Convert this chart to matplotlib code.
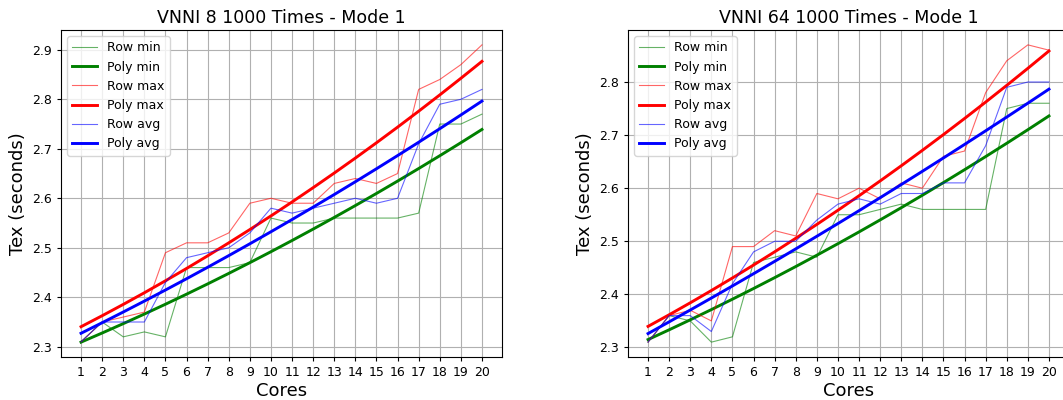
import matplotlib
matplotlib.use("Agg")
import matplotlib.pyplot as plt
import numpy as np

cores = np.arange(1, 21)

# VNNI 8
v8_min = [2.31, 2.35, 2.32, 2.33, 2.32, 2.46, 2.46, 2.46, 2.47, 2.56,
          2.55, 2.55, 2.56, 2.56, 2.56, 2.56, 2.57, 2.75, 2.75, 2.77]
v8_max = [2.31, 2.35, 2.36, 2.37, 2.49, 2.51, 2.51, 2.53, 2.59, 2.60,
          2.59, 2.59, 2.63, 2.64, 2.63, 2.65, 2.82, 2.84, 2.87, 2.91]
v8_avg = [2.31, 2.35, 2.35, 2.35, 2.43, 2.48, 2.49, 2.50, 2.53, 2.58,
          2.57, 2.58, 2.59, 2.60, 2.59, 2.60, 2.71, 2.79, 2.80, 2.82]

# VNNI 64
v64_min = [2.31, 2.36, 2.35, 2.31, 2.32, 2.46, 2.47, 2.48, 2.47, 2.55,
           2.55, 2.56, 2.57, 2.56, 2.56, 2.56, 2.56, 2.75, 2.76, 2.76]
v64_max = [2.31, 2.36, 2.37, 2.35, 2.49, 2.49, 2.52, 2.51, 2.59, 2.58,
           2.60, 2.58, 2.61, 2.60, 2.66, 2.67, 2.78, 2.84, 2.87, 2.86]
v64_avg = [2.31, 2.36, 2.36, 2.33, 2.42, 2.48, 2.50, 2.50, 2.54, 2.57,
           2.58, 2.57, 2.59, 2.59, 2.61, 2.61, 2.68, 2.79, 2.80, 2.80]


def draw(ax, title, mins, maxs, avgs):
    for vals, col, name in [(mins, 'green', 'min'), (maxs, 'red', 'max'), (avgs, 'blue', 'avg')]:
        # quadratic fit of the raw rows
        fit = np.poly1d(np.polyfit(cores, vals, 2))
        ax.plot(cores, vals, color=col, lw=0.8, alpha=0.6, label=f'Row {name}')
        ax.plot(cores, fit(cores), color=col, lw=2.1, label=f'Poly {name}')
    ax.set_title(title, fontsize=12.5, pad=5)
    ax.set_xlabel('Cores', fontsize=13, labelpad=2)
    ax.set_ylabel('Tex (seconds)', fontsize=13)
    ax.set_xticks(cores)
    ax.tick_params(labelsize=9, length=3)
    ax.grid(True, color='#b0b0b0', lw=0.8)
    ax.legend(loc='upper left', fontsize=9)


fig = plt.figure(figsize=(10.63, 4.0), dpi=100)
ax1 = fig.add_axes([61 / 1063, 43 / 400, 441 / 1063, 327 / 400])
ax2 = fig.add_axes([628 / 1063, 43 / 400, 441 / 1063, 327 / 400])

draw(ax1, 'VNNI 8 1000 Times - Mode 1', v8_min, v8_max, v8_avg)
draw(ax2, 'VNNI 64 1000 Times - Mode 1', v64_min, v64_max, v64_avg)

fig.savefig('out.png', dpi=100)
